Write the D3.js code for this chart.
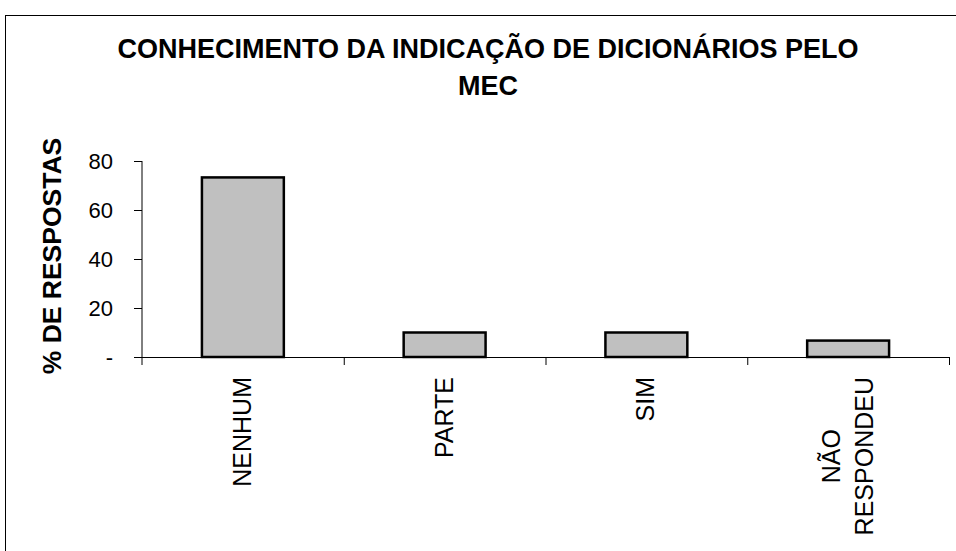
<!DOCTYPE html>
<html>
<head>
<meta charset="utf-8">
<script src="https://cdn.jsdelivr.net/npm/d3@7"></script>
<style>
  body { margin: 0; background: #fff; }
  text { font-family: "Liberation Sans", Arial, sans-serif; }
</style>
</head>
<body>
<div id="chart"></div>
<script>
// data (percent of answers)
let categories = ['NENHUM', 'PARTE', 'SIM', 'NÃO\nRESPONDEU']
let values = [73.3, 10, 10, 6.7]
let yTicks = [0, 20, 40, 60, 80]
let titleLines = ['CONHECIMENTO DA INDICAÇÃO DE DICIONÁRIOS PELO', 'MEC']

let width = 956, height = 551

let svg = d3.select('#chart').append('svg')
    .attr('width', width)
    .attr('height', height)

// outer frame
svg.append('rect')
    .attr('x', 5.5)
    .attr('y', 15.5)
    .attr('width', 960)
    .attr('height', 560)
    .attr('fill', 'none')
    .attr('stroke', '#000')
    .attr('stroke-width', 1)

let plot = {left: 142, right: 949, top: 161, bottom: 357}

let y = d3.scaleLinear()
    .domain([0, 80])
    .range([plot.bottom, plot.top])

let x = d3.scaleBand()
    .domain(categories)
    .range([plot.left, plot.right])
    .paddingInner(0.594)
    .paddingOuter(0.297)

// title
svg.append('g')
    .selectAll('text')
    .data(titleLines)
    .enter()
    .append('text')
    .attr('x', 488)
    .attr('y', function(d, i){ return 58 + i * 37 })
    .attr('text-anchor', 'middle')
    .attr('font-size', 27)
    .attr('font-weight', 'bold')
    .text(function(d){ return d })

// bars
svg.append('g')
    .selectAll('rect')
    .data(categories)
    .enter()
    .append('rect')
    .attr('x', function(d){ return x(d) })
    .attr('y', function(d, i){ return y(values[i]) })
    .attr('width', x.bandwidth())
    .attr('height', function(d, i){ return y(0) - y(values[i]) })
    .attr('fill', '#c0c0c0')
    .attr('stroke', '#000')
    .attr('stroke-width', 2.5)

// y axis
let yAxis = svg.append('g')
    .attr('transform', 'translate(' + plot.left + ',0)')
    .call(d3.axisLeft(y)
        .tickValues(yTicks)
        .tickSize(8)
        .tickPadding(21)
        .tickFormat(function(d){ return d == 0 ? '-' : d }))

yAxis.select('.domain').attr('stroke', '#000').attr('d', 'M0,' + plot.top + 'V' + (plot.bottom + 8))
yAxis.selectAll('.tick line').attr('stroke', '#000')
yAxis.selectAll('.tick text')
    .attr('font-size', 22)
    .attr('fill', '#000')
    .attr('font-family', '"Liberation Sans", Arial, sans-serif')

// x axis line and ticks at category boundaries
let xAxisG = svg.append('g')

xAxisG.append('line')
    .attr('x1', plot.left)
    .attr('x2', plot.right)
    .attr('y1', plot.bottom + 0.5)
    .attr('y2', plot.bottom + 0.5)
    .attr('stroke', '#000')

xAxisG.selectAll('.xtick')
    .data(categories)
    .enter()
    .append('line')
    .attr('x1', function(d){ return x(d) + x.bandwidth() / 2 + x.step() / 2 + 0.5 })
    .attr('x2', function(d){ return x(d) + x.bandwidth() / 2 + x.step() / 2 + 0.5 })
    .attr('y1', plot.bottom)
    .attr('y2', plot.bottom + 8)
    .attr('stroke', '#000')

// rotated category labels
let labels = xAxisG.selectAll('.xlabel')
    .data(categories)
    .enter()
    .append('g')
    .attr('transform', function(d){
        return 'translate(' + (x(d) + x.bandwidth() / 2) + ',' + 377 + ') rotate(-90)'
    })

labels.each(function(d){
    let g = d3.select(this)
    let lines = d.split('\n')
    let texts = g.selectAll('text')
        .data(lines)
        .enter()
        .append('text')
        .attr('font-size', 25)
        .attr('text-anchor', 'middle')
        .attr('dy', function(l, i){ return (i - (lines.length - 1) / 2) * 33 + 8 })
        .text(function(l){ return l })
    let maxLen = 0
    texts.each(function(){
        let len = this.getComputedTextLength()
        if(len > maxLen) maxLen = len
    })
    texts.attr('x', -maxLen / 2)
})

// y axis title
svg.append('text')
    .attr('transform', 'translate(61,256) rotate(-90)')
    .attr('text-anchor', 'middle')
    .attr('font-size', 26.5)
    .attr('font-weight', 'bold')
    .text('% DE RESPOSTAS')
</script>
</body>
</html>
